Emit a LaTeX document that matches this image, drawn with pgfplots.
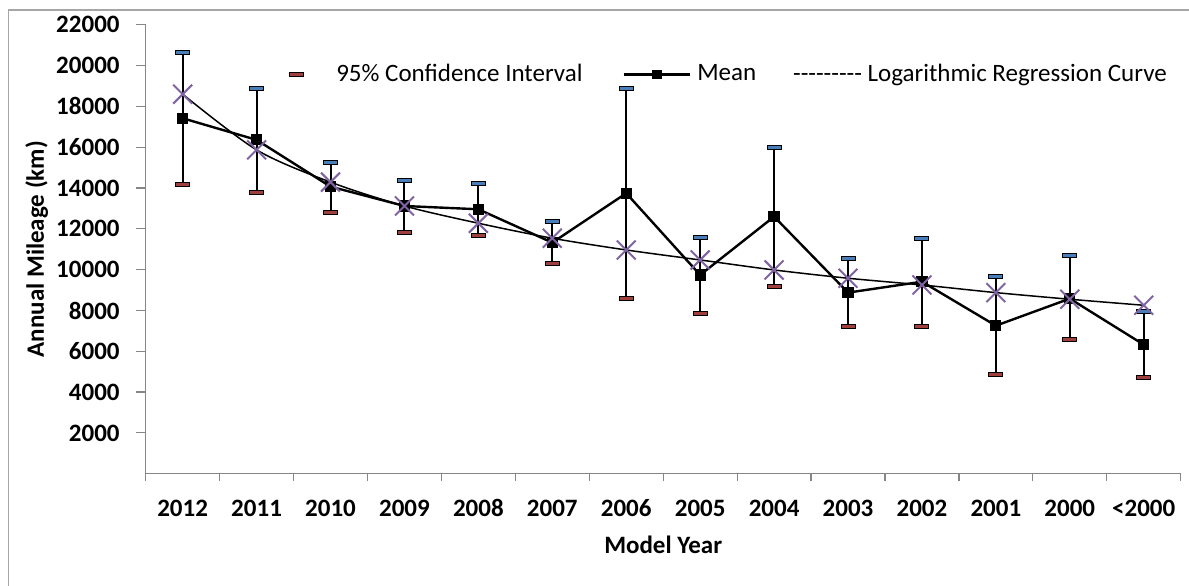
\documentclass[border=0pt]{standalone}
\usepackage{fontspec}
\setmainfont{Carlito}
\usepackage{pgfplots}
\usepackage{pgfplotstable}
\pgfplotsset{compat=1.18}
\definecolor{axisgray}{HTML}{868686}
\definecolor{framegray}{HTML}{A6A6A6}
\definecolor{capblue}{HTML}{4A7EBB}
\definecolor{capred}{HTML}{A0403C}
\definecolor{xpurple}{HTML}{8064A2}
\newcommand{\fs}{\fontsize{12.5}{15}\selectfont}
\pgfdeclareplotmark{cap}{%
  \pgfpathrectangle{\pgfpoint{-3.5pt}{-1pt}}{\pgfpoint{7pt}{2pt}}%
  \pgfusepathqfillstroke}

\pgfplotstableread{
x     mean   up     lo     reg
0.5   17420  20660  14190  18600
1.5   16360  18860  13775  15870
2.5   14070  15230  12815  14290
3.5   13120  14380  11830  13120
4.5   12960  14215  11670  12275
5.5   11325  12355  10315  11540
6.5   13745  18870  8600   10965
7.5   9740   11600  7845   10475
8.5   12600  16000  9170   9985
9.5   8875   10525  7205   9580
10.5  9410   11540  7205   9250
11.5  7255   9675   4870   8875
12.5  8580   10670  6570   8550
13.5  6325   7940   4705   8255
}\data

\begin{document}
\fs
\begin{tikzpicture}
\useasboundingbox (-72.85pt,-55.65pt) rectangle (521.65pt,236.85pt);
\draw[framegray, line width=0.6pt] (-68.6pt,-60pt) -- (-68.6pt,231.85pt) -- (530pt,231.85pt);
\begin{axis}[
  scale only axis,
  width=517.5pt, height=224.45pt,
  xmin=0, xmax=14, ymin=0, ymax=22000,
  axis x line*=bottom, axis y line*=left,
  axis line style={draw=axisgray, line width=0.6pt},
  tick align=outside,
  xtick={0.5,1.5,...,13.5},
  xticklabels={2012,2011,2010,2009,2008,2007,2006,2005,2004,2003,2002,2001,2000,{<2000}},
  minor xtick={0,1,...,14},
  major x tick style={draw=none},
  minor x tick style={draw=axisgray, line width=0.6pt},
  minor tick length=3.65pt,
  ytick={2000,4000,...,22000},
  scaled y ticks=false,
  major y tick style={draw=axisgray, line width=0.6pt},
  major tick length=4.65pt,
  tick label style={font=\fs\bfseries},
  yticklabel style={anchor=east, inner sep=0pt},
  yticklabel shift=8.2pt,
  xticklabel style={anchor=base, inner sep=0pt},
  xticklabel shift=16.6pt,
  /pgf/number format/.cd, 1000 sep={}, assume math mode=true,
  /pgfplots/.cd,
  xlabel={Model Year},
  ylabel={Annual Mileage (km)},
  label style={font=\fs\bfseries},
  x label style={at={(axis description cs:0.5,-0.1595)}, anchor=center},
  y label style={at={(axis description cs:-0.1053,0.5)}, anchor=center},
  legend columns=3,
  legend style={at={(axis description cs:0.11314,0.8897)}, anchor=west,
    draw=none, fill=none, inner sep=0pt, outer sep=0pt, column sep=3.25pt,
    font=\fs, nodes={inner sep=0pt}},
  clip=false,
]
\addlegendimage{legend image code/.code={%
  \path[draw=none, fill=none] (0pt,0pt) -- (33.5pt,0pt);
  \draw[black, solid, line width=0.5pt, fill=capred] (13.25pt,-1pt) rectangle (20.25pt,1pt);}}
\addlegendentry{95\% Confidence Interval\rule{16.65pt}{0pt}}
\addlegendimage{legend image code/.code={%
  \draw[black, solid, line width=1.2pt] (0pt,0pt) -- (33pt,0pt);
  \fill[black] (14.3pt,-2.2pt) rectangle (18.7pt,2.2pt);}}
\addlegendentry{Mean\rule{11.95pt}{0pt}}
\addlegendimage{legend image code/.code={}}
\addlegendentry{-{}-{}-{}-{}-{}-{}-{}-{}- Logarithmic Regression Curve}

\addplot[forget plot, draw=none, mark=none,
  error bars/.cd, y dir=both, y explicit, error mark=none,
  error bar style={draw=black, solid, line width=1pt}]
  table[x=x, y=mean, y error plus expr=\thisrow{up}-\thisrow{mean},
        y error minus expr=\thisrow{mean}-\thisrow{lo}] {\data};
\addplot[forget plot, black, line width=0.75pt, smooth, mark=none] table[x=x, y=reg] {\data};
\addplot[forget plot, black, line width=1.2pt, mark=square*, mark size=2.2pt,
  mark options={solid, fill=black}] table[x=x, y=mean] {\data};
\addplot[forget plot, only marks, mark=cap,
  mark options={fill=capblue, draw=black, line width=0.5pt}] table[x=x, y=up] {\data};
\addplot[forget plot, only marks, mark=cap,
  mark options={fill=capred, draw=black, line width=0.5pt}] table[x=x, y=lo] {\data};
\addplot[forget plot, only marks, mark=x, mark size=6.7pt,
  mark options={draw=xpurple, line width=1pt}] table[x=x, y=reg] {\data};
\end{axis}
\end{tikzpicture}
\end{document}
